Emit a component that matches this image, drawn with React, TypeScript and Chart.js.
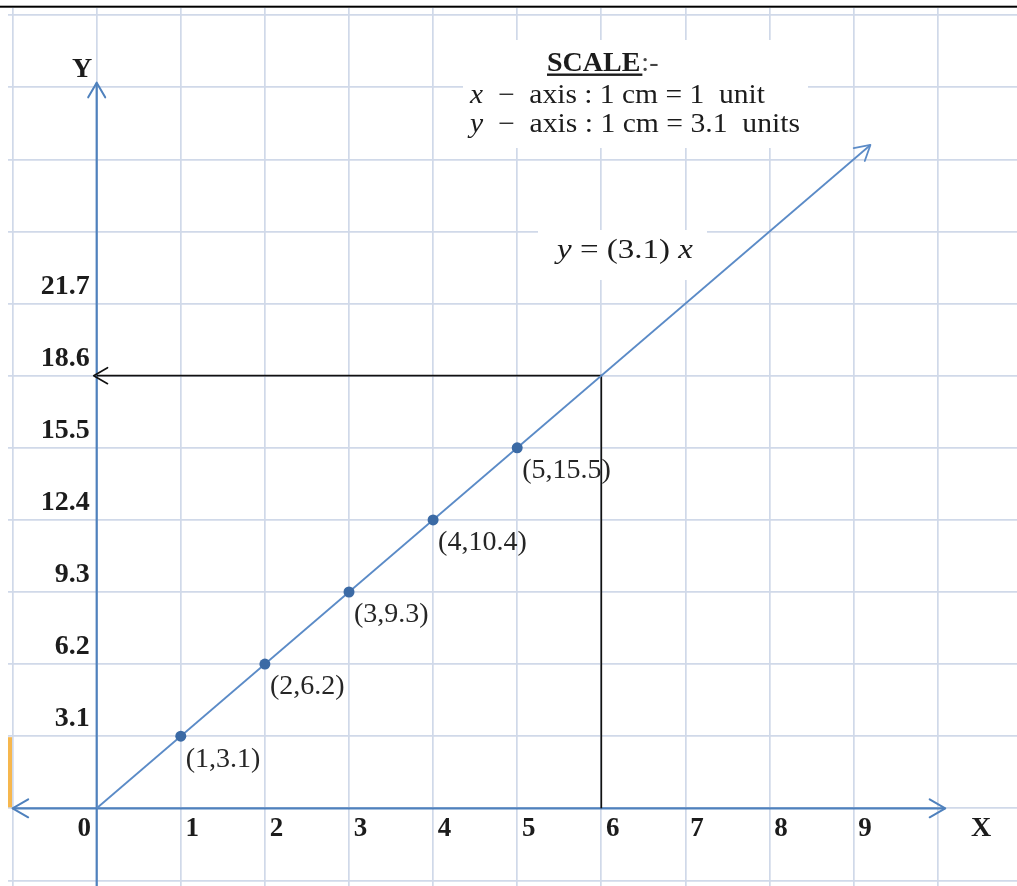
import React, { useEffect, useRef } from 'react';
import { Chart, registerables } from 'chart.js';

Chart.register(...registerables);

// ---------------- data ----------------
const X_VALUES = [1, 2, 3, 4, 5];
const Y_VALUES = [3.1, 6.2, 9.3, 12.4, 15.5];
const POINT_LABELS = ['(1,3.1)', '(2,6.2)', '(3,9.3)', '(4,10.4)', '(5,15.5)'];
const LINE_X = [0, 9.2];
const LINE_Y = [0, 28.52];
const GUIDE_X = [0, 6, 6];
const GUIDE_Y = [18.6, 18.6, 0];
const X_GRID = [-1, 0, 1, 2, 3, 4, 5, 6, 7, 8, 9, 10];
const Y_GRID = [-3.1, 0, 3.1, 6.2, 9.3, 12.4, 15.5, 18.6, 21.7, 24.8, 27.9, 31, 34.1];
const X_TICK_LABELS = ['1', '2', '3', '4', '5', '6', '7', '8', '9'];
const ORIGIN_LABEL = '0';
const Y_TICK_LABELS = ['3.1', '6.2', '9.3', '12.4', '15.5', '18.6', '21.7'];
const X_AXIS_EXTENT = [-1.0, 10.09];
const Y_AXIS_EXTENT = [-3.4, 31.2];
const X_AXIS_NAME = 'X';
const Y_AXIS_NAME = 'Y';
const SCALE_TITLE = 'SCALE';
const SCALE_TITLE_SUFFIX = ':-';
const SCALE_LINE_1 = ['x', '  \u2212  axis : 1 cm = 1  unit'];
const SCALE_LINE_2 = ['y', '  \u2212  axis : 1 cm = 3.1  units'];
const EQUATION = ['y', ' = (3.1) ', 'x'];

// ---------------- view range ----------------
const X_MIN = -1.0547;
const X_MAX = 10.943;
const Y_MIN = -3.341;
const Y_MAX = 34.409;

const SERIF = '"Liberation Serif", "Times New Roman", serif';
const GRID_COLOR = '#d0d9e9';
const AXIS_COLOR = '#4f81bd';
const LINE_COLOR = '#5b8bc7';
const POINT_COLOR = '#3b6aa5';
const TEXT_COLOR = '#1c1c1c';

function chevron(ctx: CanvasRenderingContext2D, tx: number, ty: number, ang: number, len: number, half: number, color: string, w: number) {
  ctx.save();
  ctx.strokeStyle = color;
  ctx.lineWidth = w;
  ctx.lineCap = 'round';
  ctx.lineJoin = 'round';
  ctx.beginPath();
  ctx.moveTo(tx - len * Math.cos(ang - half), ty - len * Math.sin(ang - half));
  ctx.lineTo(tx, ty);
  ctx.lineTo(tx - len * Math.cos(ang + half), ty - len * Math.sin(ang + half));
  ctx.stroke();
  ctx.restore();
}

function rich(ctx: CanvasRenderingContext2D, parts: [string, string][], x: number, baseline: number, targetW?: number) {
  let total = 0;
  for (const [t, f] of parts) {
    ctx.font = f;
    total += ctx.measureText(t).width;
  }
  const sx = targetW ? targetW / total : 1;
  ctx.save();
  ctx.translate(x, baseline);
  ctx.scale(sx, 1);
  ctx.textAlign = 'left';
  ctx.textBaseline = 'alphabetic';
  let cx = 0;
  for (const [t, f] of parts) {
    ctx.font = f;
    ctx.fillText(t, cx, 0);
    cx += ctx.measureText(t).width;
  }
  ctx.restore();
  return total * sx;
}

const zeroPadding = (s: any) => {
  s.paddingTop = 0;
  s.paddingBottom = 0;
  s.paddingLeft = 0;
  s.paddingRight = 0;
};

const overlay = {
  id: 'overlay',
  beforeDatasetsDraw(chart: any) {
    const ctx: CanvasRenderingContext2D = chart.ctx;
    const ys = chart.scales.y;
    ctx.save();
    ctx.fillStyle = '#ffffff';
    ctx.fillRect(463, 40, 345, 108);
    ctx.fillRect(538, 230, 169, 50);
    ctx.fillStyle = '#f6b74e';
    const yTop = ys.getPixelForValue(Y_GRID[2]);
    const yBot = ys.getPixelForValue(0);
    ctx.fillRect(chart.chartArea.left, yTop + 1, 4, yBot - yTop - 2);
    ctx.restore();
  },
  afterDraw(chart: any) {
    const ctx: CanvasRenderingContext2D = chart.ctx;
    const xs = chart.scales.x;
    const ys = chart.scales.y;
    const px = (v: number) => xs.getPixelForValue(v);
    const py = (v: number) => ys.getPixelForValue(v);
    const H = Math.PI / 6;

    // arrowheads
    chevron(ctx, px(0), py(Y_AXIS_EXTENT[1]), -Math.PI / 2, 17, H, AXIS_COLOR, 2);
    chevron(ctx, px(X_AXIS_EXTENT[1]), py(0), 0, 18, H, AXIS_COLOR, 2);
    chevron(ctx, px(X_AXIS_EXTENT[0]), py(0), Math.PI, 18, H, AXIS_COLOR, 2);
    const ax = px(LINE_X[1]) - px(LINE_X[0]);
    const ay = py(LINE_Y[1]) - py(LINE_Y[0]);
    chevron(ctx, px(LINE_X[1]), py(LINE_Y[1]), Math.atan2(ay, ax), 17, H, LINE_COLOR, 1.8);
    chevron(ctx, px(GUIDE_X[0]) - 3, py(GUIDE_Y[0]), Math.PI, 16, H, '#111111', 1.6);

    // point labels
    const meta = chart.getDatasetMeta(0);
    ctx.save();
    ctx.fillStyle = '#262626';
    ctx.font = `28px ${SERIF}`;
    ctx.textAlign = 'left';
    ctx.textBaseline = 'middle';
    meta.data.forEach((el: any, i: number) => {
      ctx.fillText(POINT_LABELS[i], el.x + 5, el.y + 23);
    });
    ctx.restore();

    // origin label and axis names
    ctx.save();
    ctx.fillStyle = TEXT_COLOR;
    ctx.textBaseline = 'middle';
    ctx.textAlign = 'center';
    ctx.font = `bold 27px ${SERIF}`;
    ctx.fillText(ORIGIN_LABEL, px(0) - 12.5, py(0) + 21);
    ctx.font = `bold 28px ${SERIF}`;
    ctx.fillText(Y_AXIS_NAME, 82, 70);
    ctx.fillText(X_AXIS_NAME, 981, 829);
    ctx.restore();

    // scale box
    ctx.save();
    ctx.fillStyle = TEXT_COLOR;
    ctx.font = `bold 28px ${SERIF}`;
    ctx.textAlign = 'left';
    ctx.textBaseline = 'alphabetic';
    ctx.fillText(SCALE_TITLE, 547, 71);
    const tw = ctx.measureText(SCALE_TITLE).width;
    ctx.fillRect(547, 73.5, tw + 2, 2.4);
    ctx.fillStyle = '#444444';
    ctx.font = `28px ${SERIF}`;
    ctx.fillText(SCALE_TITLE_SUFFIX, 547 + tw + 1, 71);
    ctx.fillStyle = TEXT_COLOR;
    const it = `italic 27px ${SERIF}`;
    const rg = `27px ${SERIF}`;
    rich(ctx, [[SCALE_LINE_1[0], it], [SCALE_LINE_1[1], rg]], 470, 103, 295);
    rich(ctx, [[SCALE_LINE_2[0], it], [SCALE_LINE_2[1], rg]], 470, 132, 330);
    rich(ctx, [[EQUATION[0], it], [EQUATION[1], rg], [EQUATION[2], it]], 557, 258, 136);
    ctx.restore();

    // top border line
    ctx.save();
    ctx.fillStyle = '#ffffff';
    ctx.fillRect(0, 0, chart.width, 5.7);
    ctx.fillStyle = '#000000';
    ctx.fillRect(0, 5.7, chart.width, 2);
    ctx.restore();
  },
};

export default function App() {
  const ref = useRef<HTMLCanvasElement>(null);
  useEffect(() => {
    const pts = X_VALUES.map((x, i) => ({ x, y: Y_VALUES[i] }));
    const chart = new Chart(ref.current as HTMLCanvasElement, {
      type: 'scatter',
      data: {
        datasets: [
          {
            data: pts,
            showLine: false,
            pointRadius: 5.5,
            pointBackgroundColor: POINT_COLOR,
            pointBorderColor: POINT_COLOR,
            pointBorderWidth: 0,
          },
          {
            data: LINE_X.map((x, i) => ({ x, y: LINE_Y[i] })),
            showLine: true,
            borderColor: LINE_COLOR,
            borderWidth: 1.8,
            pointRadius: 0,
          },
          {
            data: GUIDE_X.map((x, i) => ({ x, y: GUIDE_Y[i] })),
            showLine: true,
            borderColor: '#111111',
            borderWidth: 1.7,
            pointRadius: 0,
          },
          {
            data: [{ x: X_AXIS_EXTENT[0], y: 0 }, { x: X_AXIS_EXTENT[1], y: 0 }],
            showLine: true,
            borderColor: AXIS_COLOR,
            borderWidth: 2.2,
            pointRadius: 0,
          },
          {
            data: [{ x: 0, y: Y_AXIS_EXTENT[0] }, { x: 0, y: Y_AXIS_EXTENT[1] }],
            showLine: true,
            borderColor: AXIS_COLOR,
            borderWidth: 2.2,
            pointRadius: 0,
          },
        ],
      },
      options: {
        animation: false,
        responsive: false,
        maintainAspectRatio: false,
        events: [],
        layout: { autoPadding: false, padding: { left: 8, top: 8, right: 0, bottom: 0 } },
        plugins: { legend: { display: false }, tooltip: { enabled: false } },
        scales: {
          x: {
            type: 'linear',
            position: { y: 0 } as any,
            min: X_MIN,
            max: X_MAX,
            bounds: 'data',
            afterBuildTicks: (s: any) => {
              s.ticks = X_GRID.map((v) => ({ value: v }));
            },
            afterFit: zeroPadding,
            grid: { color: GRID_COLOR, lineWidth: 1.7, drawTicks: false },
            border: { display: false },
            ticks: {
              autoSkip: false,
              maxRotation: 0,
              minRotation: 0,
              padding: 5,
              labelOffset: 11.5,
              color: TEXT_COLOR,
              font: { family: SERIF, size: 27, weight: 'bold' },
              callback: (v: any) => {
                const s = String(Math.round(Number(v) * 10) / 10);
                return X_TICK_LABELS.includes(s) ? s : '';
              },
            },
          },
          y: {
            type: 'linear',
            position: { x: 0 } as any,
            min: Y_MIN,
            max: Y_MAX,
            bounds: 'data',
            afterBuildTicks: (s: any) => {
              s.ticks = Y_GRID.map((v) => ({ value: v }));
            },
            afterFit: zeroPadding,
            grid: { color: GRID_COLOR, lineWidth: 1.7, drawTicks: false },
            border: { display: false },
            ticks: {
              autoSkip: false,
              padding: 6,
              labelOffset: -17,
              color: TEXT_COLOR,
              font: { family: SERIF, size: 28, weight: 'bold' },
              callback: (v: any) => {
                const s = (Math.round(Number(v) * 10) / 10).toFixed(1);
                return Y_TICK_LABELS.includes(s) ? s + ' ' : '';
              },
            },
          },
        },
      },
      plugins: [overlay],
    } as any);
    return () => chart.destroy();
  }, []);
  return (
    <div style={{ position: 'absolute', left: 0, top: 0, width: 1017, height: 886, background: '#ffffff' }}>
      <canvas ref={ref} width={1017} height={886} style={{ display: 'block', width: 1017, height: 886 }} />
    </div>
  );
}
